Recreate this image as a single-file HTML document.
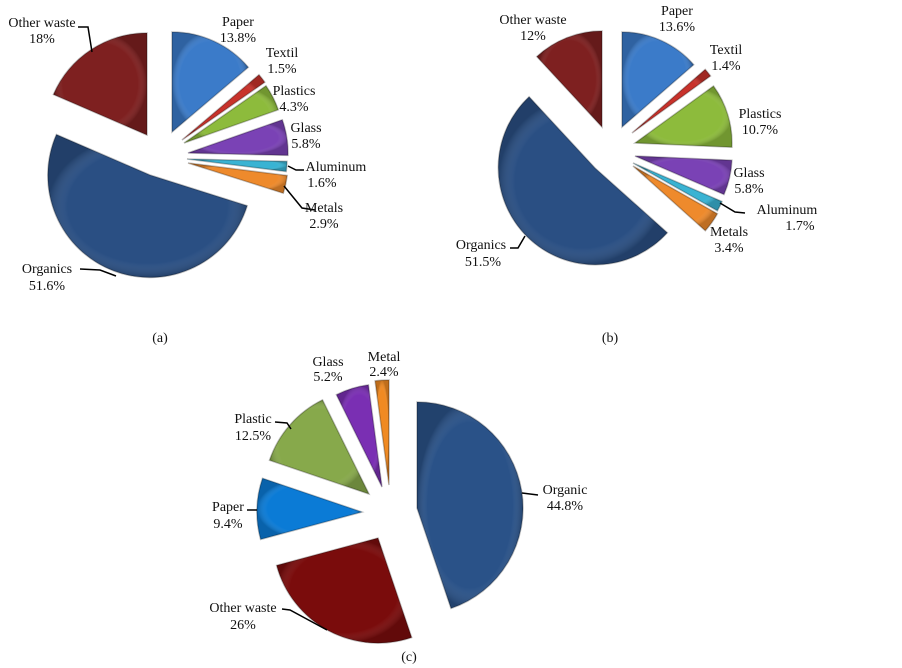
<!DOCTYPE html>
<html><head><meta charset="utf-8"><style>
html,body{margin:0;padding:0;background:#fff;width:902px;height:668px;overflow:hidden}
svg text{font-family:"Liberation Serif",serif;font-size:14px;fill:#111;text-anchor:middle}
</style></head><body>
<svg id="s" width="902" height="668" viewBox="0 0 902 668" xmlns="http://www.w3.org/2000/svg">
<defs>
<radialGradient id="sh" cx="0.5" cy="0.5" r="0.5"><stop offset="0.8" stop-color="#fff" stop-opacity="0"/><stop offset="1" stop-color="#000" stop-opacity="0.2"/></radialGradient>
</defs>
<g id="pies"></g>
<g fill="none" stroke="#000" stroke-width="1.5">
<polyline points="78,27 88,27 92,52"/>
<polyline points="288,166 296,170 304,170"/>
<polyline points="284,186 302,208 315,210"/>
<polyline points="80,269 100,270 116,276"/>
<polyline points="720,203 735,212 745,213"/>
<polyline points="510,248 518,248 525,236"/>
<polyline points="275,422 287,423 291,429"/>
<polyline points="247,510 257,510"/>
<polyline points="282,609 290,610 327,630"/>
<polyline points="522,493 538,495"/>
</g>
<g>
<text x="42" y="27">Other waste</text><text x="42" y="43">18%</text>
<text x="238" y="26">Paper</text><text x="238" y="42">13.8%</text>
<text x="282" y="57">Textil</text><text x="282" y="73">1.5%</text>
<text x="294" y="95">Plastics</text><text x="294" y="111">4.3%</text>
<text x="306" y="132">Glass</text><text x="306" y="148">5.8%</text>
<text x="336" y="171">Aluminum</text><text x="322" y="187">1.6%</text>
<text x="324" y="212">Metals</text><text x="324" y="228">2.9%</text>
<text x="47" y="273">Organics</text><text x="47" y="290">51.6%</text>
<text x="533" y="24">Other waste</text><text x="533" y="40">12%</text>
<text x="677" y="15">Paper</text><text x="677" y="31">13.6%</text>
<text x="726" y="54">Textil</text><text x="726" y="70">1.4%</text>
<text x="760" y="118">Plastics</text><text x="760" y="134">10.7%</text>
<text x="749" y="177">Glass</text><text x="749" y="193">5.8%</text>
<text x="787" y="214">Aluminum</text><text x="800" y="230">1.7%</text>
<text x="729" y="236">Metals</text><text x="729" y="252">3.4%</text>
<text x="481" y="249">Organics</text><text x="483" y="266">51.5%</text>
<text x="328" y="366">Glass</text><text x="328" y="381">5.2%</text>
<text x="384" y="361">Metal</text><text x="384" y="376">2.4%</text>
<text x="253" y="423">Plastic</text><text x="253" y="440">12.5%</text>
<text x="228" y="511">Paper</text><text x="228" y="528">9.4%</text>
<text x="243" y="612">Other waste</text><text x="243" y="629">26%</text>
<text x="565" y="494">Organic</text><text x="565" y="510">44.8%</text>
<text x="160" y="342">(a)</text><text x="610" y="342">(b)</text><text x="409" y="661">(c)</text>
</g>
</svg>
<script>
var g=document.getElementById('pies');
function sl(cx,cy,r,a0,a1,col){
 function p(a){a=a*Math.PI/180;return [cx+r*Math.sin(a),cy-r*Math.cos(a)];}
 var s=p(a0),e=p(a1),l=(a1-a0)>180?1:0;
 var d='M'+cx+','+cy+' L'+s[0].toFixed(1)+','+s[1].toFixed(1)+' A'+r+','+r+' 0 '+l+' 1 '+e[0].toFixed(1)+','+e[1].toFixed(1)+' Z';
 var ns='http://www.w3.org/2000/svg';
 var a=document.createElementNS(ns,'path');a.setAttribute('d',d);a.setAttribute('fill',col);a.setAttribute('stroke','rgba(0,0,0,0.25)');a.setAttribute('stroke-width','1.5');g.appendChild(a);
 var b=document.createElementNS(ns,'path');b.setAttribute('d',d);b.setAttribute('fill','url(#sh)');g.appendChild(b);
}
var B='#3b7bc9',O='#7e2020',G='#2a4f83',R='#c8322b',P='#8dbb3c',V='#7a42b5',C='#39b3d3',M='#ee8a2c';
sl(172,132,100,0,49.7,B);
sl(182,140,101,49.7,55.1,R);
sl(184,143,100,55.1,70.6,P);
sl(188,153,100,70.6,91.4,V);
sl(187,159,100,91.4,97.2,C);
sl(188,163,100,97.2,107.6,M);
sl(150,175,102,107.6,293.4,G);
sl(147,135,102,293.4,360,O);
sl(622,127,95,0,49,B);
sl(632,133,97,49,54,R);
sl(635,143,97,54,92.5,P);
sl(635,156,97,92.5,113.4,V);
sl(633,163,97,113.4,119.5,C);
sl(633,166,97,119.5,131.8,M);
sl(595,168,97,131.8,317.2,G);
sl(602,127,96,317.2,360,O);
sl(417,508,106,0,161.3,'#2a5288');
sl(378,538,105,161.3,254.9,'#7a0c0c');
sl(362,512,105,254.9,288.7,'#0b7bd6');
sl(369,494,105,288.7,333.7,'#87a94b');
sl(382,487,103,333.7,352.4,'#7a2fb3');
sl(389,485,105,352.4,360,'#f08a22');
</script>
</body></html>
